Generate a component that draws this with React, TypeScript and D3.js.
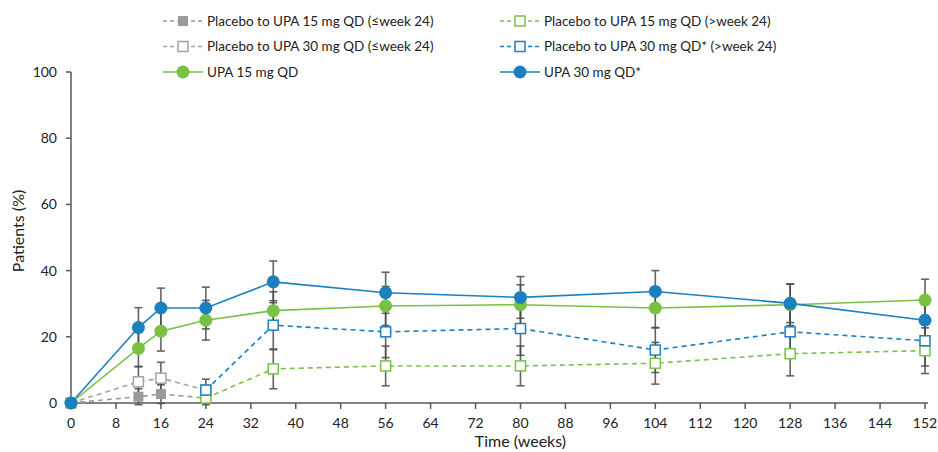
import React from "react";
import * as d3 from "d3";

// x positions (weeks)
const weeks = [0, 12, 16, 24, 36, 56, 80, 104, 128, 152];
const weeksEarly = [0, 12, 16, 24];
const weeksLate = [24, 36, 56, 80, 104, 128, 152];

// values (% patients) and half-width of the error bars
const upa30 = [0, 22.8, 28.7, 28.7, 36.6, 33.3, 31.9, 33.7, 30.1, 25.0];
const upa30Err = [0, 6.0, 6.0, 6.3, 6.3, 6.2, 6.3, 6.3, 5.8, 6.0];
const upa15 = [0, 16.5, 21.7, 25.0, 27.9, 29.3, 29.7, 28.7, 29.7, 31.1];
const upa15Err = [0, 5.5, 6.0, 6.0, 5.7, 5.9, 6.0, 6.0, 6.3, 6.3];
const pbo15Early = [0, 1.9, 2.7, 1.5];
const pbo15EarlyErr = [0, 2.4, 2.8, 2.0];
const pbo30Early = [0, 6.4, 7.5, 3.9];
const pbo30EarlyErr = [0, 4.6, 4.8, 3.3];
const pbo15Late = [1.5, 10.3, 11.2, 11.2, 12.0, 14.9, 15.8];
const pbo15LateErr = [0, 6.0, 6.0, 6.0, 6.3, 6.7, 6.9];
const pbo30Late = [3.9, 23.5, 21.5, 22.5, 16.0, 21.5, 18.8];
const pbo30LateErr = [0, 7.4, 7.8, 8.1, 6.8, 7.0, 7.6];

const xTicks = d3.range(0, 153, 8);
const yTicks = [0, 20, 40, 60, 80, 100];

const BLUE = "#1b80c0";
const GREEN = "#78c143";
const GREY = "#a3a3a3";
const GREY_FILL = "#9a9a9a";
const AXIS = "#595959";
const FONT = "Lato, 'Open Sans', sans-serif";

type Series = {
  name: string;
  x: number[];
  y: number[];
  err: number[];
  color: string;
  dashed: boolean;
  marker: "circle" | "square" | "openSquare";
};

const series: Series[] = [
  { name: "Placebo to UPA 15 mg QD (\u2264week 24)", x: weeksEarly, y: pbo15Early, err: pbo15EarlyErr, color: GREY_FILL, dashed: true, marker: "square" },
  { name: "Placebo to UPA 15 mg QD (>week 24)", x: weeksLate, y: pbo15Late, err: pbo15LateErr, color: GREEN, dashed: true, marker: "openSquare" },
  { name: "Placebo to UPA 30 mg QD (\u2264week 24)", x: weeksEarly, y: pbo30Early, err: pbo30EarlyErr, color: GREY, dashed: true, marker: "openSquare" },
  { name: "Placebo to UPA 30 mg QD* (>week 24)", x: weeksLate, y: pbo30Late, err: pbo30LateErr, color: BLUE, dashed: true, marker: "openSquare" },
  { name: "UPA 15 mg QD", x: weeks, y: upa15, err: upa15Err, color: GREEN, dashed: false, marker: "circle" },
  { name: "UPA 30 mg QD*", x: weeks, y: upa30, err: upa30Err, color: BLUE, dashed: false, marker: "circle" },
];

function Marker({ cx, cy, s }: { cx: number; cy: number; s: Series }) {
  if (s.marker === "circle") return <circle cx={cx} cy={cy} r={6.5} fill={s.color} />;
  if (s.marker === "square")
    return <rect x={cx - 5} y={cy - 5} width={10} height={10} fill={s.color} />;
  return <rect x={cx - 5} y={cy - 5} width={10} height={10} fill="white" stroke={s.color} strokeWidth={1.5} />;
}

export default function App() {
  const w = 938;
  const h = 452;
  const x = d3.scaleLinear().domain([0, 152]).range([71, 925]);
  const y = d3.scaleLinear().domain([0, 100]).range([403, 72]);
  const line = d3.line<[number, number]>().x(d => x(d[0])).y(d => y(d[1]));

  return (
    <div style={{ position: "absolute", left: 0, top: 0 }}>
      <svg width={w} height={h} style={{ display: "block", background: "white", fontFamily: FONT }}>
        {/* axes */}
        <line x1={71} x2={71} y1={y(100)} y2={y(0)} stroke={AXIS} strokeWidth={1.5} />
        <line x1={71} x2={928} y1={y(0)} y2={y(0)} stroke={AXIS} strokeWidth={1.5} />
        {yTicks.map(t => (
          <g key={"y" + t}>
            <line x1={66} x2={71} y1={y(t)} y2={y(t)} stroke={AXIS} strokeWidth={1.5} />
            <text x={57} y={y(t)} dy="0.35em" textAnchor="end" fontSize={14} fill="#222">{t}</text>
          </g>
        ))}
        {xTicks.map(t => (
          <g key={"x" + t}>
            <line x1={x(t)} x2={x(t)} y1={y(0)} y2={y(0) + 6} stroke={AXIS} strokeWidth={1.5} />
            <text x={x(t)} y={428} textAnchor="middle" fontSize={14} fill="#222">{t}</text>
          </g>
        ))}
        <text x={x(80)} y={447} textAnchor="middle" fontSize={16} fill="#222">Time (weeks)</text>
        <text transform={`translate(24,231) rotate(-90)`} textAnchor="middle" fontSize={16} fill="#222">Patients (%)</text>

        {/* error bars */}
        {series.map((s, i) =>
          s.x.map((wk, j) =>
            s.err[j] > 0 ? (
              <g key={`e${i}-${j}`} stroke="#4a4a4a" strokeWidth={1.6} opacity={0.85}>
                <line x1={x(wk)} x2={x(wk)} y1={y(s.y[j] + s.err[j])} y2={y(s.y[j] - s.err[j])} />
                <line x1={x(wk) - 4} x2={x(wk) + 4} y1={y(s.y[j] + s.err[j])} y2={y(s.y[j] + s.err[j])} />
                <line x1={x(wk) - 4} x2={x(wk) + 4} y1={y(s.y[j] - s.err[j])} y2={y(s.y[j] - s.err[j])} />
              </g>
            ) : null
          )
        )}

        {/* lines */}
        {series.map((s, i) => (
          <path
            key={"l" + i}
            d={line(s.x.map((wk, j) => [wk, s.y[j]] as [number, number])) || ""}
            fill="none"
            stroke={s.color}
            strokeWidth={1.6}
            strokeDasharray={s.dashed ? "5,4" : undefined}
          />
        ))}

        {/* markers */}
        {series.map((s, i) =>
          s.x.map((wk, j) => <Marker key={`m${i}-${j}`} cx={x(wk)} cy={y(s.y[j])} s={s} />)
        )}

        {/* legend */}
        {series.map((s, i) => {
          const col = i % 2;
          const row = Math.floor(i / 2);
          const lx = col === 0 ? 163 : 500;
          const ly = [21, 46.5, 72][row];
          return (
            <g key={"lg" + i}>
              <line x1={lx} x2={lx + 40} y1={ly} y2={ly} stroke={s.color} strokeWidth={1.6} strokeDasharray={s.dashed ? "4,3" : undefined} />
              <Marker cx={lx + 20} cy={ly} s={s} />
              <text x={lx + 44} y={ly} dy="0.35em" fontSize={13.5} fill="#222">{s.name}</text>
            </g>
          );
        })}
      </svg>
    </div>
  );
}
